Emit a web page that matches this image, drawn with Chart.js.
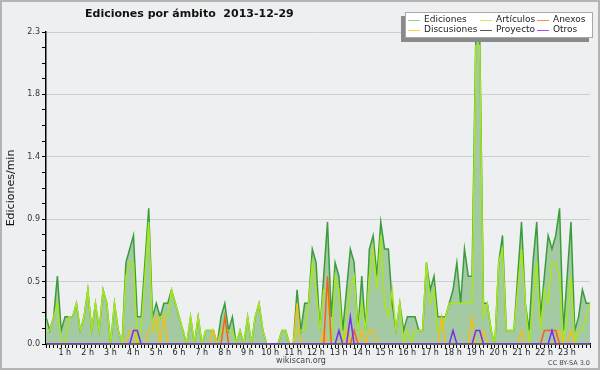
<!DOCTYPE html>
<html>
<head>
<meta charset="utf-8">
<script src="https://cdn.jsdelivr.net/npm/chart.js@4"></script>
<style>
  body { margin: 0; background: #fff; }
  #grafico { display: block; background: #eeeff1; outline: 2px solid #b4b4b4; outline-offset: -2px; }
</style>
</head>
<body>
<canvas id="grafico" width="600" height="370"></canvas>
<script>
const titulo = "Ediciones por ámbito  2013-12-29";
const tituloEje = "Ediciones/min";
const horas = ["1 h", "2 h", "3 h", "4 h", "5 h", "6 h", "7 h", "8 h", "9 h", "10 h", "11 h", "12 h",
  "13 h", "14 h", "15 h", "16 h", "17 h", "18 h", "19 h", "20 h", "21 h", "22 h", "23 h"];
const yEtiquetas = ["0.0", "0.5", "0.9", "1.4", "1.8", "2.3"];
const yMax = 2.3;

// una fila = 2 horas (12 intervalos de 10 min)
const ediciones = [
  0.2, 0.1, 0.2, 0.5, 0.1, 0.2, 0.2, 0.2, 0.3, 0.1, 0.2, 0.4,
  0.1, 0.3, 0.1, 0.4, 0.3, 0, 0.3, 0.1, 0, 0.6, 0.7, 0.8,
  0.2, 0.2, 0.6, 1.0, 0.2, 0.3, 0.2, 0.3, 0.3, 0.4, 0.3, 0.2,
  0.1, 0, 0.2, 0, 0.2, 0, 0.1, 0.1, 0.1, 0, 0.2, 0.3,
  0.1, 0.2, 0, 0.1, 0, 0.2, 0, 0.2, 0.3, 0.1, 0, 0,
  0, 0, 0.1, 0.1, 0, 0, 0.4, 0.1, 0.3, 0.3, 0.7, 0.6,
  0.1, 0.5, 0.9, 0.2, 0.6, 0.5, 0.1, 0.4, 0.7, 0.6, 0.1, 0.5,
  0.1, 0.7, 0.8, 0.5, 0.9, 0.7, 0.7, 0.3, 0.1, 0.3, 0.1, 0.2,
  0.2, 0.2, 0.1, 0.1, 0.6, 0.4, 0.5, 0.2, 0.2, 0.2, 0.3, 0.4,
  0.6, 0.3, 0.7, 0.5, 0.5, 2.3, 2.3, 0.3, 0.3, 0.1, 0, 0.6,
  0.8, 0.1, 0.1, 0.1, 0.5, 0.9, 0.3, 0.1, 0.6, 0.9, 0.2, 0.5,
  0.8, 0.7, 0.8, 1.0, 0.1, 0.5, 0.9, 0.1, 0.2, 0.4, 0.3, 0.3
];
const articulos = [
  0.1, 0.1, 0.2, 0.3, 0, 0, 0.2, 0.2, 0.3, 0.1, 0.2, 0.4,
  0.1, 0.3, 0.1, 0.4, 0.3, 0, 0.3, 0.1, 0, 0.5, 0.6, 0.6,
  0, 0.1, 0.5, 0.9, 0.1, 0.1, 0.2, 0.2, 0.2, 0.4, 0.3, 0.2,
  0.1, 0, 0.2, 0, 0.2, 0, 0.1, 0.1, 0.1, 0, 0.1, 0.1,
  0.1, 0.1, 0, 0.1, 0, 0.2, 0, 0.2, 0.3, 0.1, 0, 0,
  0, 0, 0.1, 0.1, 0, 0, 0.1, 0.1, 0.1, 0.3, 0.6, 0.4,
  0.1, 0.4, 0.4, 0, 0.5, 0.4, 0, 0.2, 0.4, 0.5, 0.1, 0.3,
  0.1, 0.5, 0.7, 0.4, 0.8, 0.3, 0.2, 0.4, 0.1, 0.3, 0, 0.1,
  0, 0.1, 0.1, 0.1, 0.6, 0.3, 0.4, 0.1, 0.1, 0.2, 0.3, 0.3,
  0.3, 0.3, 0.3, 0.3, 0.3, 2.2, 2.2, 0.2, 0.3, 0.1, 0, 0.6,
  0.7, 0.1, 0.1, 0.1, 0.4, 0.7, 0.3, 0, 0.3, 0.6, 0.1, 0.4,
  0.3, 0.6, 0.6, 0.5, 0, 0.2, 0.5, 0, 0.1, 0.1, 0.2, 0.3
];
const anexos = [
  0, 0, 0, 0, 0, 0, 0, 0, 0, 0, 0, 0,
  0, 0, 0, 0, 0, 0, 0, 0, 0, 0, 0, 0,
  0, 0, 0, 0, 0, 0, 0, 0, 0, 0, 0, 0,
  0, 0, 0, 0, 0, 0, 0, 0, 0, 0, 0, 0.2,
  0, 0, 0, 0, 0, 0, 0, 0, 0, 0, 0, 0,
  0, 0, 0, 0, 0, 0, 0, 0, 0, 0, 0, 0,
  0, 0, 0.5, 0, 0, 0, 0, 0, 0, 0.1, 0, 0,
  0, 0, 0, 0, 0, 0, 0, 0, 0, 0, 0, 0,
  0, 0, 0, 0, 0, 0, 0, 0, 0, 0, 0, 0,
  0, 0, 0, 0, 0, 0, 0, 0, 0, 0, 0, 0,
  0, 0, 0, 0, 0, 0, 0, 0, 0, 0, 0, 0.1,
  0.1, 0.1, 0.1, 0, 0, 0, 0, 0, 0, 0, 0, 0
];
const discusiones = [
  0, 0, 0, 0, 0, 0, 0, 0, 0, 0, 0, 0,
  0, 0, 0, 0, 0, 0, 0, 0, 0, 0, 0.1, 0.1,
  0, 0, 0, 0.1, 0.1, 0.2, 0, 0.2, 0, 0, 0, 0,
  0, 0, 0, 0, 0, 0, 0, 0, 0.1, 0, 0, 0,
  0, 0, 0, 0, 0, 0, 0, 0, 0, 0, 0, 0,
  0, 0, 0, 0, 0, 0, 0.3, 0, 0, 0, 0, 0,
  0, 0.1, 0, 0, 0, 0, 0, 0.1, 0, 0, 0, 0.1,
  0, 0.1, 0.1, 0, 0, 0, 0, 0, 0, 0, 0, 0,
  0, 0, 0, 0, 0, 0, 0, 0, 0.2, 0, 0, 0,
  0, 0, 0, 0, 0.2, 0, 0, 0.1, 0, 0, 0, 0,
  0, 0, 0, 0, 0, 0.1, 0, 0, 0, 0, 0, 0,
  0, 0, 0, 0.1, 0, 0, 0.1, 0, 0, 0, 0, 0
];
const proyecto = [
  0, 0, 0, 0, 0, 0, 0, 0, 0, 0, 0, 0,
  0, 0, 0, 0, 0, 0, 0, 0, 0, 0, 0, 0,
  0, 0, 0, 0, 0, 0, 0, 0, 0, 0, 0, 0,
  0, 0, 0, 0, 0, 0, 0, 0, 0, 0, 0, 0,
  0, 0, 0, 0, 0, 0, 0, 0, 0, 0, 0, 0,
  0, 0, 0, 0, 0, 0, 0, 0, 0, 0, 0, 0,
  0, 0, 0, 0, 0, 0, 0, 0, 0, 0, 0, 0,
  0, 0, 0, 0, 0, 0, 0, 0, 0, 0, 0, 0,
  0, 0, 0, 0, 0, 0, 0, 0, 0, 0, 0, 0,
  0, 0, 0, 0, 0, 0, 0, 0, 0, 0, 0, 0,
  0, 0, 0, 0, 0, 0, 0, 0, 0, 0, 0, 0,
  0, 0, 0, 0, 0, 0, 0, 0, 0, 0, 0, 0
];
const otros = [
  0, 0, 0, 0, 0, 0, 0, 0, 0, 0, 0, 0,
  0, 0, 0, 0, 0, 0, 0, 0, 0, 0, 0, 0.1,
  0.1, 0, 0, 0, 0, 0, 0, 0, 0, 0, 0, 0,
  0, 0, 0, 0, 0, 0, 0, 0, 0, 0, 0, 0,
  0, 0, 0, 0, 0, 0, 0, 0, 0, 0, 0, 0,
  0, 0, 0, 0, 0, 0, 0, 0, 0, 0, 0, 0,
  0, 0, 0, 0, 0, 0.1, 0, 0, 0.2, 0, 0, 0,
  0, 0, 0, 0, 0, 0, 0, 0, 0, 0, 0, 0,
  0, 0, 0, 0, 0, 0, 0, 0, 0, 0, 0, 0.1,
  0, 0, 0, 0, 0, 0.1, 0.1, 0, 0, 0, 0, 0,
  0, 0, 0, 0, 0, 0, 0, 0, 0, 0, 0, 0,
  0, 0.1, 0, 0, 0, 0, 0, 0, 0, 0, 0, 0
];

// intervalos de 10 minutos
const intervalos = [];
for (let h = 0; h < 24; h++) {
  for (let m = 0; m < 60; m += 10) {
    intervalos.push(String(h).padStart(2, "0") + ":" + String(m).padStart(2, "0"));
  }
}

const fuente = "'DejaVu Sans', sans-serif";

function serie(label, datos, color, colorLeyenda, orden) {
  return {
    label: label,
    data: datos,
    borderColor: color,
    borderWidth: 1.5,
    fill: false,
    pointRadius: 0,
    tension: 0,
    order: orden,
    colorLeyenda: colorLeyenda
  };
}

const adornos = {
  id: "adornos",
  afterDraw(chart) {
    const ctx = chart.ctx;
    ctx.save();

    // titulo
    ctx.fillStyle = "#111";
    ctx.font = "bold 11px " + fuente;
    ctx.textAlign = "left";
    ctx.textBaseline = "middle";
    ctx.fillText(titulo, 85, 14);

    // titulo del eje y
    ctx.save();
    ctx.translate(11, 188);
    ctx.rotate(-Math.PI / 2);
    ctx.textAlign = "center";
    ctx.font = "11px " + fuente;
    ctx.fillText(tituloEje, 0, 0);
    ctx.restore();

    // pie
    ctx.fillStyle = "#444";
    ctx.font = "8px " + fuente;
    ctx.textAlign = "center";
    ctx.fillText("wikiscan.org", 301, 361);
    ctx.font = "6.5px " + fuente;
    ctx.textAlign = "right";
    ctx.fillText("CC BY-SA 3.0", 590, 363);

    // leyenda
    ctx.fillStyle = "#8a8a8a";
    ctx.fillRect(401, 16, 188, 26);
    ctx.fillStyle = "#fff";
    ctx.fillRect(405, 12, 188, 26);
    ctx.strokeStyle = "#a8a8a8";
    ctx.lineWidth = 1;
    ctx.strokeRect(405.5, 12.5, 187, 25);

    const columnas = [408, 480, 537];
    const filas = [20, 30];
    ctx.font = "9px " + fuente;
    ctx.textAlign = "left";
    chart.data.datasets.forEach((ds, i) => {
      const x = columnas[i % 3];
      const y = filas[Math.floor(i / 3)];
      ctx.strokeStyle = ds.colorLeyenda;
      ctx.beginPath();
      ctx.moveTo(x, y + 0.5);
      ctx.lineTo(x + 12, y + 0.5);
      ctx.stroke();
      ctx.fillStyle = "#222";
      ctx.fillText(ds.label, x + 16, y);
    });
    ctx.restore();
  }
};

new Chart(document.getElementById("grafico"), {
  type: "line",
  data: {
    labels: intervalos,
    datasets: [
      Object.assign(serie("Ediciones", ediciones, "#3a9d3a", "#8fd08f", 10), {
        fill: "origin",
        backgroundColor: "#a3caa3"
      }),
      serie("Artículos", articulos, "#a8e61d", "#cdf05a", 5),
      serie("Anexos", anexos, "#ff5e1a", "#ff8c50", 3),
      serie("Discusiones", discusiones, "#f2bf1a", "#ffd040", 4),
      serie("Proyecto", proyecto, "#555555", "#555555", 2),
      serie("Otros", otros, "#7a2cf0", "#9950ff", 1)
    ]
  },
  options: {
    responsive: false,
    animation: false,
    devicePixelRatio: 1,
    layout: { padding: { top: 32, right: 10, left: 0, bottom: 0 } },
    plugins: {
      legend: { display: false },
      title: { display: false },
      tooltip: { enabled: false }
    },
    scales: {
      x: {
        type: "category",
        z: 1,
        grid: { drawOnChartArea: false, color: "#000", tickLength: 4 },
        border: { color: "#000", width: 1.5 },
        ticks: {
          autoSkip: false,
          maxRotation: 0,
          minRotation: 0,
          padding: 0,
          labelOffset: -4,
          color: "#222",
          font: { family: fuente, size: 8 },
          callback: (v, i) => (i % 6 === 0 && i > 0) ? horas[i / 6 - 1] : ""
        },
        afterFit: (escala) => { escala.height = 26; }
      },
      y: {
        min: 0,
        max: yMax,
        grid: {
          color: (c) => (c.index % 4 === 0 ? "#cfcfcf" : "rgba(0,0,0,0)"),
          tickColor: "#000",
          tickLength: 4
        },
        border: { color: "#000", width: 1.5 },
        afterBuildTicks: (escala) => {
          const marcas = [];
          for (let k = 0; k <= 20; k++) marcas.push({ value: yMax * k / 20 });
          escala.ticks = marcas;
        },
        ticks: {
          padding: 2,
          color: "#333",
          font: { family: fuente, size: 8 },
          callback: (v, i) => (i % 4 === 0 ? yEtiquetas[i / 4] : "")
        },
        afterFit: (escala) => { escala.width = 46; }
      }
    }
  },
  plugins: [adornos]
});
</script>
</body>
</html>
